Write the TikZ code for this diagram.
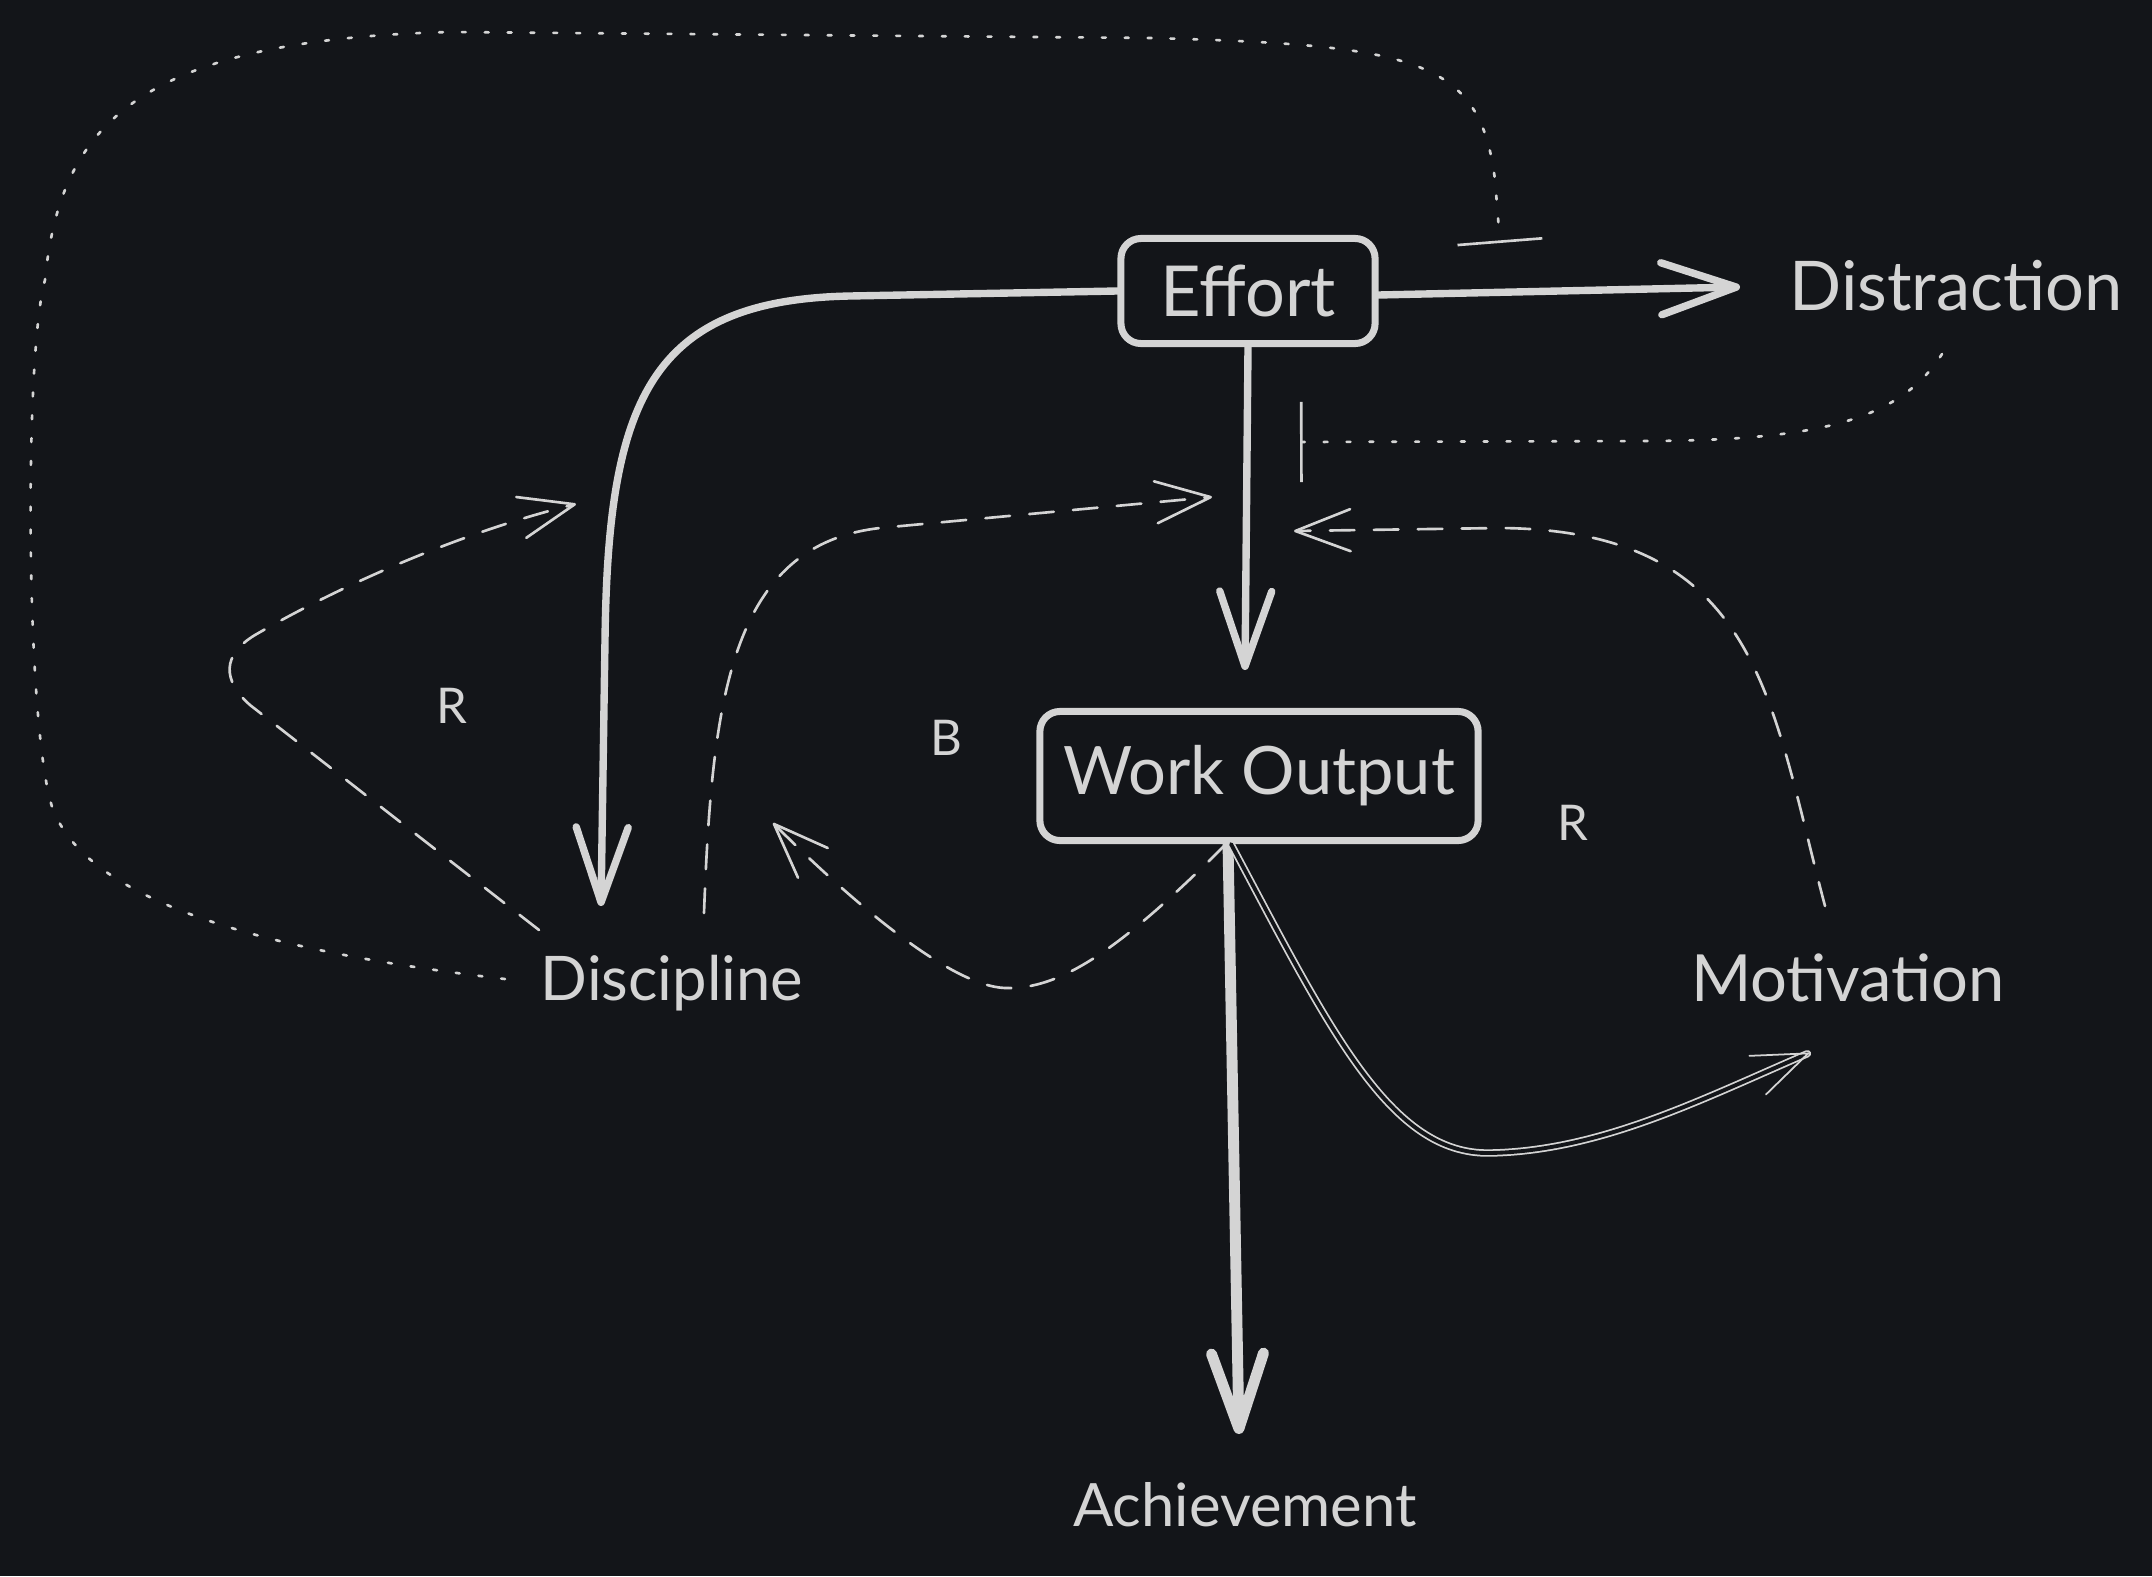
\documentclass[tikz,border=0pt]{standalone}
\usepackage{fontspec}
\setmainfont{Lato}
\usetikzlibrary{arrows.meta}
\definecolor{bgdark}{HTML}{131519}
\definecolor{chalk}{HTML}{D4D4D4}

\begin{document}
\begin{tikzpicture}[x=0.01cm, y=-0.01cm, chalk, line cap=round, line join=round,
	box/.style={draw, line width=2pt, rounded corners=0.2cm, minimum width=2.54cm, minimum height=1.05cm, font=\fontsize{19}{22}\selectfont},
	lbl/.style={font=\fontsize{17.5}{20}\selectfont},
	loopmark/.style={font=\fontsize{14}{16}\selectfont},
	strong/.style={line width=2.1pt, -{Straight Barb[length=7.5mm, width=5.2mm, round]}},
	twin/.style={double=bgdark, double distance=1.1pt, line width=0.5pt, -{Straight Barb[length=5.5mm, width=4.2mm, round]}},
	feedback/.style={line width=0.75pt, dash pattern=on 7pt off 5.5pt, -{Straight Barb[length=5.5mm, width=4.2mm, round]}},
	inhibit/.style={line width=0.75pt, dash pattern=on 1.1pt off 5.4pt, -{Bar[width=8.5mm]}}]
		\fill[bgdark] (0,0) rectangle (2152,1576);
		
		%nodes
		\node[box, font=\fontsize{20}{22}\selectfont] (eff) at (1248,291) {Effort};
		\node[box, minimum width=4.38cm, minimum height=1.29cm] (wo) at (1259,776) {Work Output};
		\node[lbl, font=\fontsize{19.5}{22}\selectfont] (dist) at (1956,286) {Distraction};
		\node[lbl] (disc) at (672,983) {Discipline};
		\node[lbl, font=\fontsize{18.5}{22}\selectfont] (mot) at (1848,978) {Motivation};
		\node[lbl, font=\fontsize{17}{20}\selectfont] (ach) at (1245,1505) {Achievement};
		\node[loopmark] (r1) at (452,706) {R};
		\node[loopmark] (b1) at (946,738) {B};
		\node[loopmark] (r2) at (1573,823) {R};
		
		%free ends
		\coordinate (rtipL) at (576,504);
		\coordinate (btip) at (1212,497);
		\coordinate (rtipR) at (1294,531);
		\coordinate (barTop) at (1500,243);
		\coordinate (barMid) at (1300,442);
		
		%effort links
		\draw[strong] ([shift={(0,4)}]eff.east) -- ([shift={(-216,1)}]dist.center);
		\draw[strong] (eff.west) -- (850,296) .. controls (650,300) and (608,400) .. (605,640) -- ([shift={(-71,-77)}]disc.center);
		\draw[strong] (eff.south) -- ([shift={(-14,-106)}]wo.center);
		\draw[strong, line width=3.1pt] ([shift={(-31,0)}]wo.south) -- ([shift={(-6,-71)}]ach.center);
		\draw[twin] ([shift={(-28,0)}]wo.south) .. controls (1330,1030) and (1390,1155) .. (1490,1153) .. controls (1600,1151) and (1700,1100) .. ([shift={(-39,75)}]mot.center);
		
		%feedback loops
		\draw[feedback] ([shift={(-133,-53)}]disc.center) -- (250,705) .. controls (222,680) and (222,655) .. (255,635) .. controls (350,580) and (470,530) .. (rtipL);
		\draw[feedback] ([shift={(-33,0)}]wo.south) .. controls (1120,950) and (1060,990) .. (1005,988) .. controls (950,986) and (850,900) .. ([shift={(101,-160)}]disc.center);
		\draw[feedback] ([shift={(32,-70)}]disc.center) .. controls (712,700) and (730,545) .. (880,528) -- (btip);
		\draw[feedback] ([shift={(-23,-72)}]mot.center) .. controls (1770,700) and (1760,530) .. (1500,528) -- (rtipR);
		
		%inhibiting links
		\draw[inhibit] ([shift={(-167,-4)}]disc.center) .. controls (300,955) and (80,910) .. (50,800) .. controls (25,700) and (25,350) .. (45,280) .. controls (60,130) and (130,40) .. (450,32) -- (1150,38) .. controls (1420,45) and (1480,60) .. (1495,180) -- (barTop);
		\draw[inhibit, -{Bar[width=8mm]}] ([shift={(-14,68)}]dist.center) .. controls (1900,420) and (1820,440) .. (1650,441) -- (barMid);
\end{tikzpicture}
\end{document}
